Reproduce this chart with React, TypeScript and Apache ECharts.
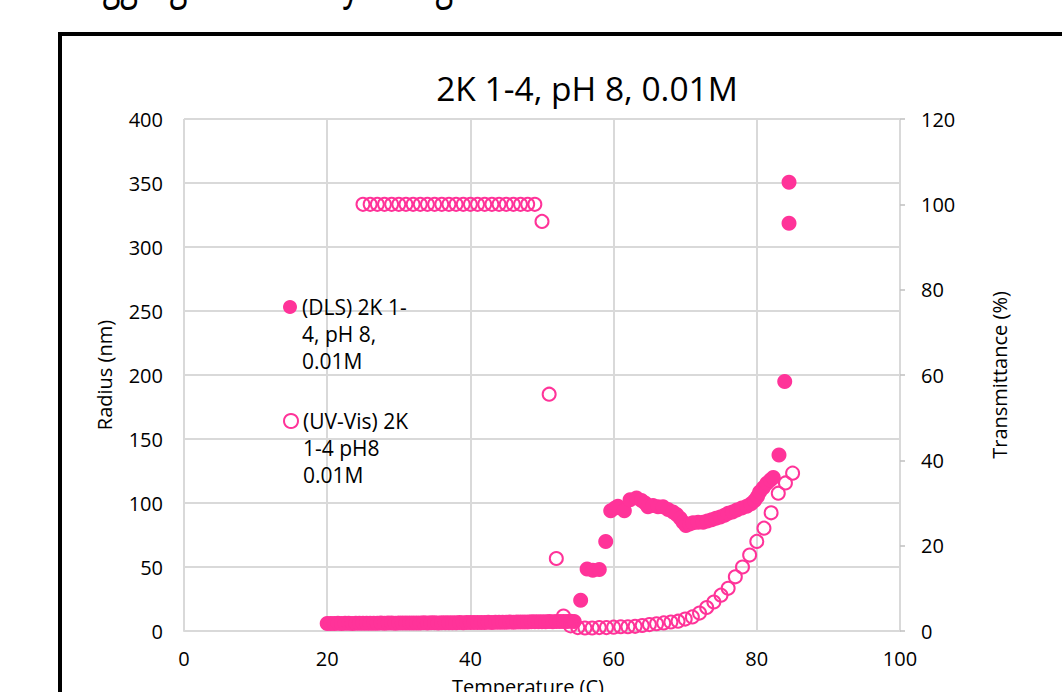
import React, { useEffect, useRef } from 'react';
import * as echarts from 'echarts';

const slideTitle = 'Aggregation Study Using';
const chartTitle = '2K 1-4, pH 8, 0.01M';
const xName = 'Temperature (C)';
const yLeftName = 'Radius (nm)';
const yRightName = 'Transmittance (%)';
const dlsName = '(DLS) 2K 1-4, pH 8, 0.01M';
const uvName = '(UV-Vis) 2K 1-4 pH8 0.01M';
const dlsLegendLines = ['(DLS) 2K 1-', '4, pH 8,', '0.01M'];
const uvLegendLines = ['(UV-Vis) 2K', '1-4 pH8', '0.01M'];

const xTicks = [0, 20, 40, 60, 80, 100];
const leftTicks = [0, 50, 100, 150, 200, 250, 300, 350, 400];
const rightTicks = [0, 20, 40, 60, 80, 100, 120];

// DLS: temperature (C) and radius (nm)
const dlsTemp = [
  20, 20.5, 21, 21.5, 22, 22.5, 23, 23.5, 24, 24.5,
  25, 25.5, 26, 26.5, 27, 27.5, 28, 28.5, 29, 29.5,
  30, 30.5, 31, 31.5, 32, 32.5, 33, 33.5, 34, 34.5,
  35, 35.5, 36, 36.5, 37, 37.5, 38, 38.5, 39, 39.5,
  40, 40.5, 41, 41.5, 42, 42.5, 43, 43.5, 44, 44.5,
  45, 45.5, 46, 46.5, 47, 47.5, 48, 48.5, 49, 49.5,
  50, 50.5, 51, 51.5, 52, 52.5, 53, 53.5, 54, 54.5,
  55.4, 56.3, 57.1, 58.0, 58.9, 59.6, 60.2, 60.6, 61.5, 62.3,
  63.2, 63.9, 64.4, 64.8, 65.5, 66.2, 66.9, 67.6, 68.3, 68.8,
  69.3, 69.7, 70.1, 70.6, 71.1, 71.8, 72.5, 73.1, 73.7, 74.3,
  74.9, 75.5, 76.0, 76.6, 77.2, 77.9, 78.6, 79.2, 79.7, 80.1,
  80.4, 80.9, 81.4, 81.9, 82.3, 83.1, 83.9, 84.5, 84.5,
];
const dlsRadius = [
  5.9, 5.8, 5.9, 6.0, 5.9, 6.0, 6.0, 5.9, 6.0, 6.1,
  6.0, 6.1, 6.1, 6.0, 6.1, 6.2, 6.1, 6.2, 6.2, 6.1,
  6.2, 6.3, 6.2, 6.3, 6.3, 6.2, 6.3, 6.4, 6.3, 6.4,
  6.4, 6.3, 6.4, 6.5, 6.4, 6.5, 6.5, 6.6, 6.5, 6.6,
  6.6, 6.7, 6.6, 6.7, 6.7, 6.8, 6.7, 6.8, 6.8, 6.9,
  6.9, 7.0, 6.9, 7.0, 7.0, 7.1, 7.1, 7.2, 7.2, 7.3,
  7.2, 7.3, 7.4, 7.3, 7.4, 7.5, 7.4, 7.5, 7.6, 7.5,
  24, 48.5, 47.5, 48, 70, 94, 96, 97.5, 94, 102.5,
  104, 102, 100, 97, 98, 97, 97, 95, 93, 91,
  88, 85, 82.5, 83.5, 84.5, 85, 85, 86, 87, 88,
  89, 90.5, 92, 93, 94.5, 96, 97.5, 99.5, 102, 105,
  108.5, 112, 115.5, 118, 120, 137.5, 195, 318.5, 350.5,
];

// UV-Vis: temperature (C) and transmittance (%)
const uvTemp = [
  25, 26, 27, 28, 29, 30, 31, 32, 33, 34,
  35, 36, 37, 38, 39, 40, 41, 42, 43, 44,
  45, 46, 47, 48, 49, 50, 51, 52, 53, 54,
  55, 56, 57, 58, 59, 60, 61, 62, 63, 64,
  65, 66, 67, 68, 69, 70, 71, 72, 73, 74,
  75, 76, 77, 78, 79, 80, 81, 82, 83, 84,
  85,
];
const uvTrans = [
  100, 100, 100, 100, 100, 100, 100, 100, 100, 100,
  100, 100, 100, 100, 100, 100, 100, 100, 100, 100,
  100, 100, 100, 100, 100, 96, 55.5, 17, 3.5, 1.2,
  0.8, 0.7, 0.7, 0.8, 0.8, 0.9, 1.0, 1.0, 1.1, 1.3,
  1.5, 1.7, 1.9, 2.1, 2.3, 2.8, 3.3, 4.2, 5.5, 6.8,
  8.4, 10.0, 12.7, 15.0, 17.8, 21.0, 24.1, 27.7, 32.3, 34.7,
  37.0,
];

const PINK = '#ff3399';
const FONT = "'Open Sans', sans-serif";
const GRID_COLOR = '#d9d9d9';

export default function App() {
  const ref = useRef<HTMLDivElement>(null);

  useEffect(() => {
    if (!ref.current) return;
    const chart = echarts.init(ref.current, undefined, { renderer: 'svg' });
    const step = (t: number[]) => t[1] - t[0];
    // two leading blank lines put the first text line level with the legend marker
    const legendText = (name: string) =>
      '\n\n' + (name === dlsName ? dlsLegendLines : uvLegendLines).join('\n');
    const legendBase = {
      orient: 'vertical',
      left: 283,
      padding: 0,
      itemWidth: 14,
      itemHeight: 14,
      icon: 'circle',
      formatter: legendText,
      textStyle: {
        fontFamily: FONT,
        fontSize: 21,
        color: '#000',
        lineHeight: 27,
      },
    };
    chart.setOption({
      animation: false,
      backgroundColor: '#ffffff',
      textStyle: { fontFamily: FONT },
      title: {
        text: chartTitle,
        left: 582,
        top: 66,
        textAlign: 'center',
        textStyle: { fontFamily: FONT, fontSize: 33.5, fontWeight: 'normal', color: '#000' },
      },
      graphic: [
        {
          type: 'rect',
          z: -1,
          shape: { x: 60, y: 34, width: 1200, height: 900 },
          style: { fill: 'none', stroke: '#000', lineWidth: 4 },
        },
        {
          type: 'text',
          x: 82,
          y: 4,
          scaleX: 0.68,
          style: {
            text: slideTitle,
            fontFamily: FONT,
            fontSize: 48,
            fill: '#000',
            verticalAlign: 'bottom',
          },
        },
      ],
      legend: [
        {
          ...legendBase,
          top: 239.5,
          data: [{ name: dlsName, itemStyle: { color: PINK } }],
        },
        {
          ...legendBase,
          top: 353.5,
          data: [
            {
              name: uvName,
              itemStyle: { color: '#ffffff', borderColor: PINK, borderWidth: 2 },
            },
          ],
        },
      ],
      grid: {
        left: 184,
        right: 162,
        top: 119,
        bottom: 61,
        containLabel: false,
        outerBoundsMode: 'none',
      },
      xAxis: {
        type: 'value',
        min: xTicks[0],
        max: xTicks[xTicks.length - 1],
        interval: step(xTicks),
        name: xName,
        nameLocation: 'middle',
        nameGap: 45,
        nameTextStyle: { fontFamily: FONT, fontSize: 20, color: '#000', padding: [0, 28, 0, 0] },
        axisLine: { show: true, lineStyle: { color: GRID_COLOR, width: 2 } },
        axisTick: { show: false },
        axisLabel: { margin: 17, fontFamily: FONT, fontSize: 20, color: '#000' },
        splitLine: { show: true, lineStyle: { color: GRID_COLOR, width: 2 } },
      },
      yAxis: [
        {
          type: 'value',
          position: 'left',
          min: leftTicks[0],
          max: leftTicks[leftTicks.length - 1],
          interval: step(leftTicks),
          name: yLeftName,
          nameLocation: 'middle',
          nameRotate: 90,
          nameGap: 70,
          nameTextStyle: { fontFamily: FONT, fontSize: 20, color: '#000' },
          axisLine: { show: false },
          axisTick: { show: false },
          axisLabel: { margin: 21, fontFamily: FONT, fontSize: 20, color: '#000' },
          splitLine: { show: true, lineStyle: { color: GRID_COLOR, width: 2 } },
        },
        {
          type: 'value',
          position: 'right',
          min: rightTicks[0],
          max: rightTicks[rightTicks.length - 1],
          interval: step(rightTicks),
          name: yRightName,
          nameLocation: 'middle',
          nameRotate: 90,
          nameGap: 89,
          nameTextStyle: { fontFamily: FONT, fontSize: 20, color: '#000' },
          axisLine: { show: false },
          axisTick: { show: true, length: 5, lineStyle: { color: '#bfbfbf', width: 1.5 } },
          axisLabel: { margin: 21, fontFamily: FONT, fontSize: 20, color: '#000' },
          splitLine: { show: false },
        },
      ],
      series: [
        {
          name: dlsName,
          type: 'scatter',
          yAxisIndex: 0,
          symbol: 'circle',
          symbolSize: 15,
          itemStyle: { color: PINK, opacity: 1 },
          data: dlsTemp.map((t, i) => [t, dlsRadius[i]]),
          z: 2,
        },
        {
          name: uvName,
          type: 'scatter',
          yAxisIndex: 1,
          symbol: 'circle',
          symbolSize: 13,
          itemStyle: { color: 'rgba(255,255,255,0)', borderColor: PINK, borderWidth: 2, opacity: 1 },
          data: uvTemp.map((t, i) => [t, uvTrans[i]]),
          z: 3,
        },
      ],
    });
    return () => chart.dispose();
  }, []);

  return (
    <div
      ref={ref}
      style={{ position: 'fixed', left: 0, top: 0, width: 1062, height: 692, background: '#fff' }}
    />
  );
}
